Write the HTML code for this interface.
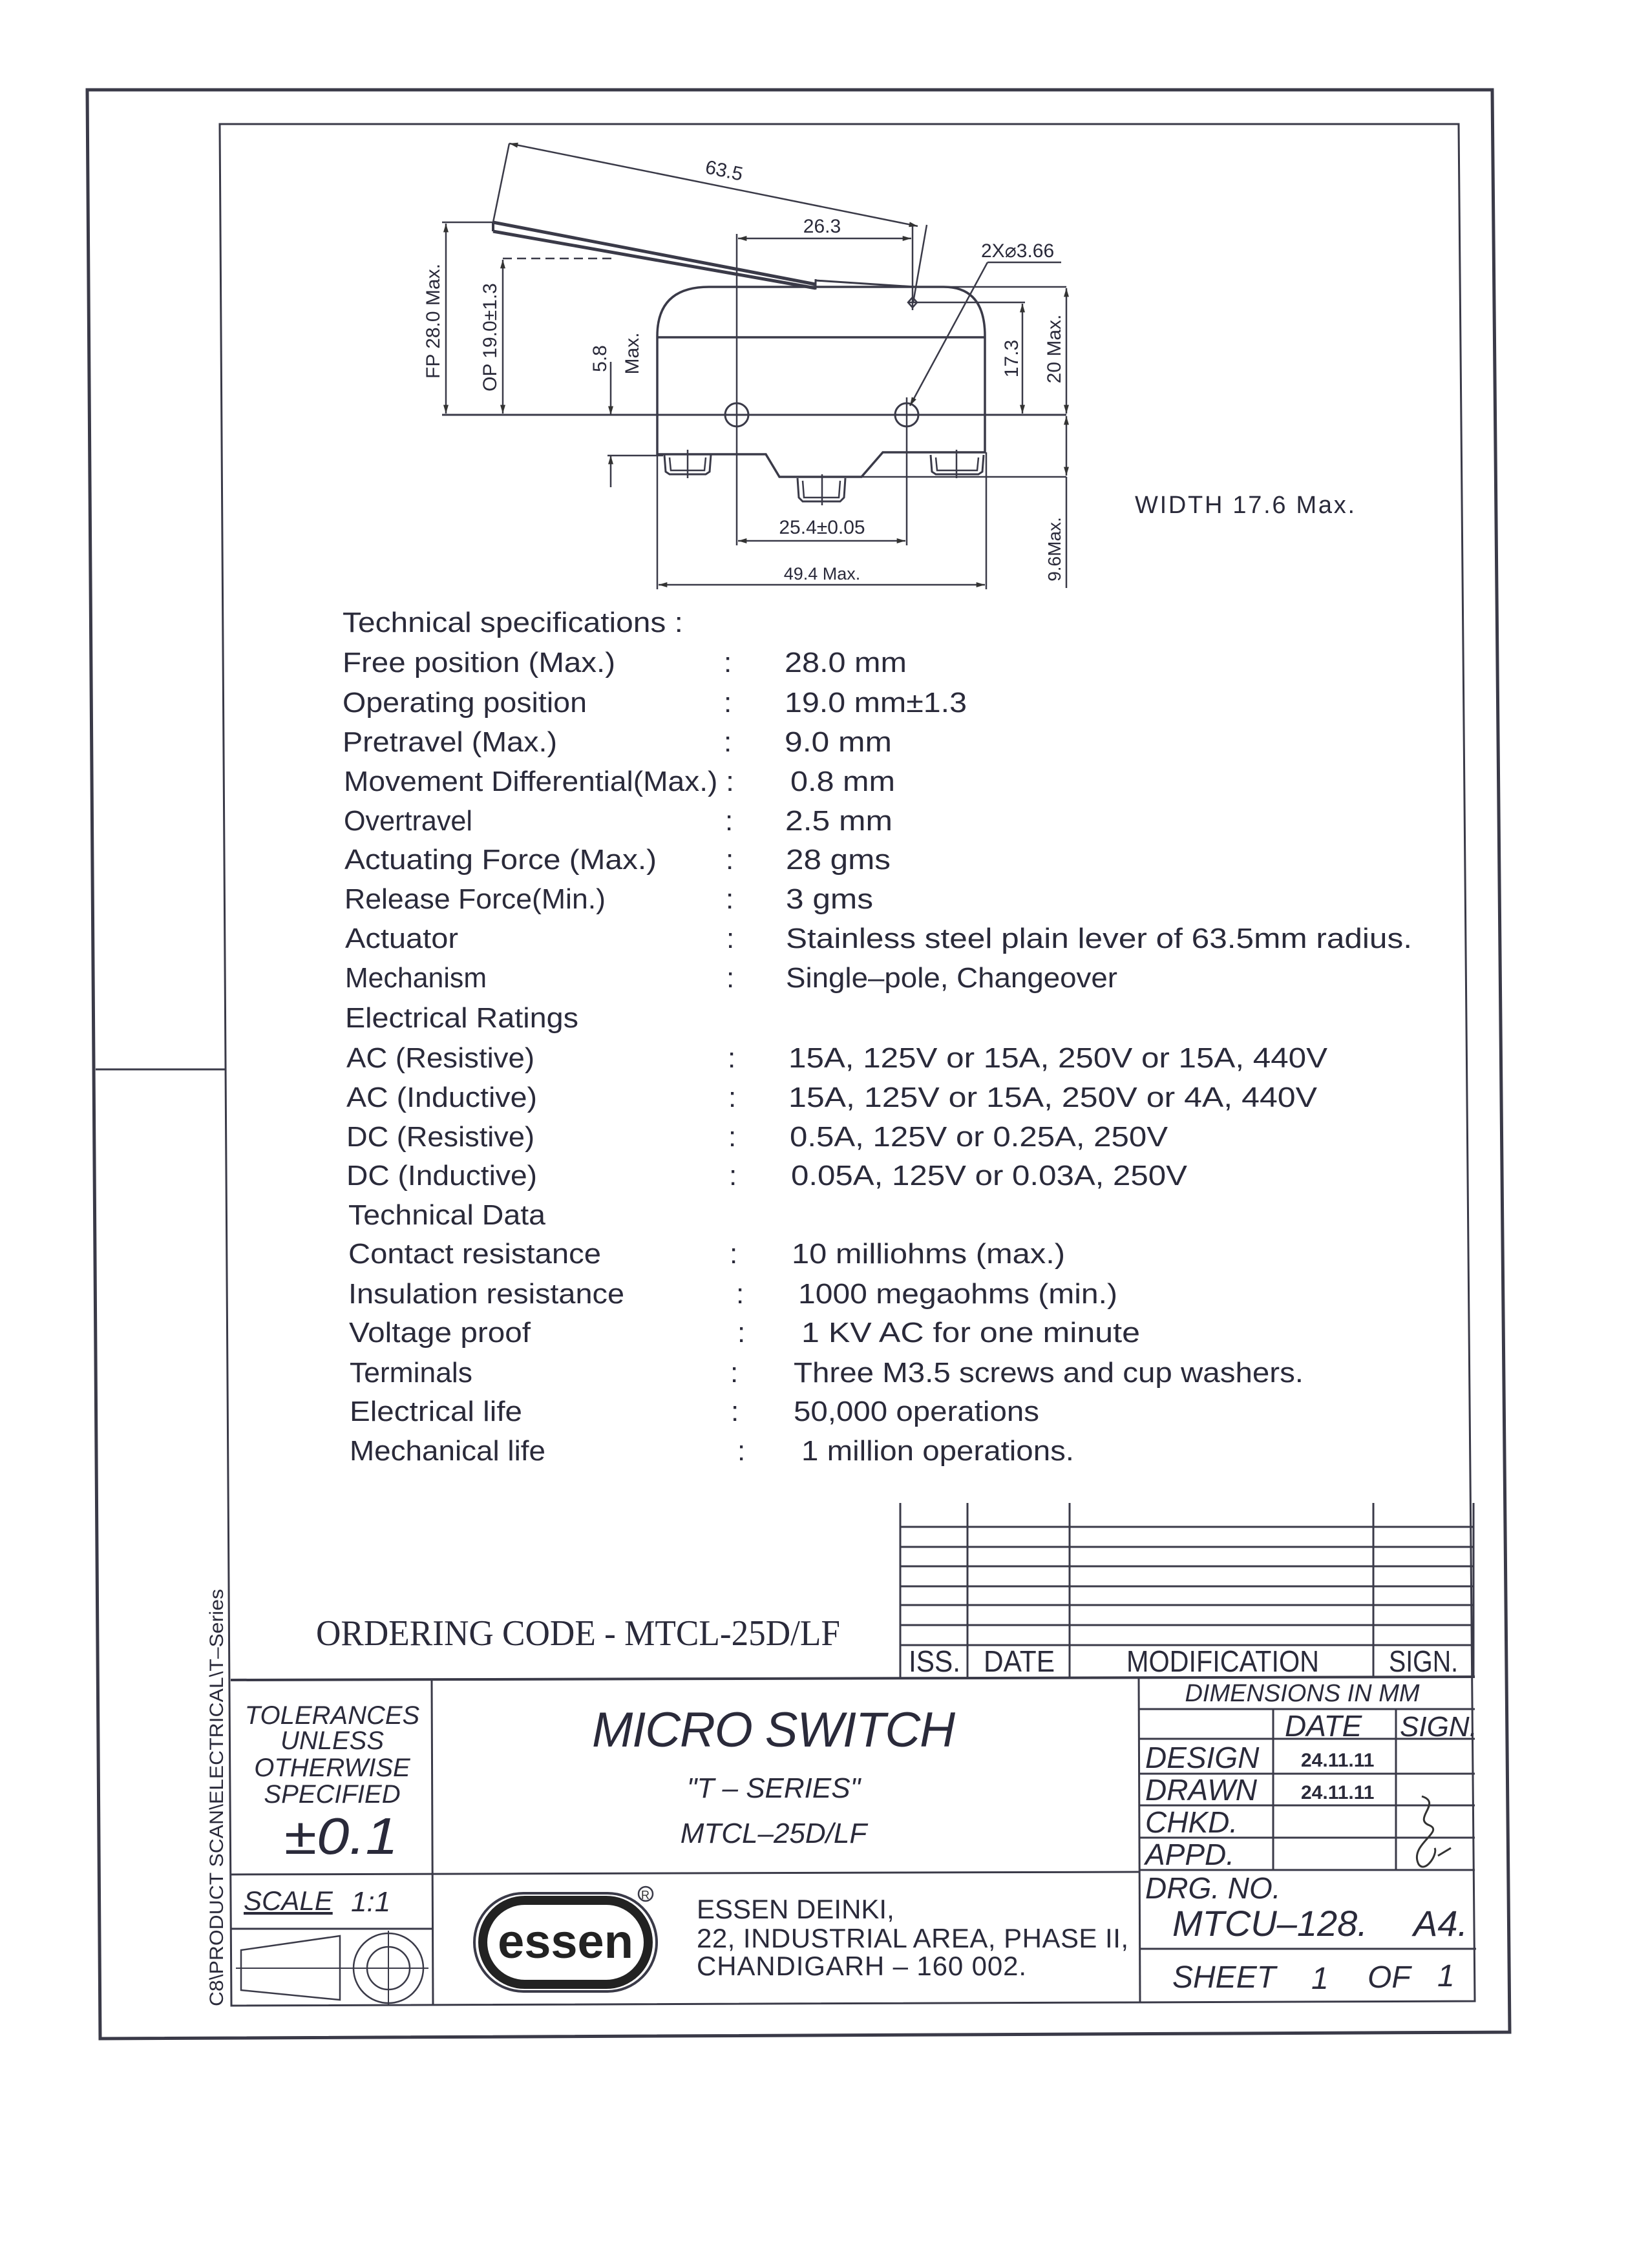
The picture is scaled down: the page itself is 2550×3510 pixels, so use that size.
<!DOCTYPE html>
<html><head><meta charset="utf-8"><style>
html,body{margin:0;padding:0;background:#fff}
svg{display:block}
text{font-family:"Liberation Sans",sans-serif;fill:#2a2a3a}
.s{font-size:44px}
.it{font-style:italic}
.serif{font-family:"Liberation Serif",serif}
</style></head><body>
<svg width="2550" height="3510" viewBox="0 0 2550 3510" xmlns="http://www.w3.org/2000/svg">
<defs>
<marker id="b" viewBox="0 0 10 6" refX="10" refY="3" markerWidth="16" markerHeight="8" orient="auto-start-reverse" markerUnits="userSpaceOnUse"><path d="M0,0 L10,3 L0,6z" fill="#333"/></marker>
</defs>
<g fill="none" stroke="#3a3a48">
<!-- frames -->
<polygon points="135,139 2309,139 2336,3145 155,3155" stroke-width="5"/>
<polygon points="340,192 2257,192 2282,3097 358,3104" stroke-width="3"/>
<line x1="148" y1="1655" x2="350" y2="1655" stroke-width="3"/>

<g stroke-width="2.5">
<line x1="788" y1="222" x2="763" y2="344"/>
<line x1="1434" y1="348" x2="1413" y2="468"/>
<line x1="788" y1="222" x2="1420" y2="350" marker-start="url(#b)" marker-end="url(#b)"/>
<line x1="763" y1="344" x2="1262" y2="440" stroke-width="5"/>
<line x1="763" y1="358" x2="1262" y2="446" stroke-width="5"/>
<line x1="763" y1="344" x2="763" y2="358" stroke-width="4"/>
<line x1="1262" y1="432" x2="1262" y2="448" stroke-width="3"/>
<line x1="1262" y1="434" x2="1416" y2="444" stroke-width="3"/>
<line x1="684" y1="344" x2="763" y2="344"/>
<line x1="690" y1="346" x2="690" y2="640" marker-start="url(#b)" marker-end="url(#b)"/>
<line x1="778" y1="400" x2="949" y2="400" stroke-dasharray="14,8"/>
<line x1="778" y1="402" x2="778" y2="640" marker-start="url(#b)" marker-end="url(#b)"/>
<line x1="684" y1="642" x2="1650" y2="642" stroke-width="3"/>
<line x1="945" y1="560" x2="945" y2="642" marker-end="url(#b)"/>
<line x1="945" y1="754" x2="945" y2="705" marker-end="url(#b)"/>
<line x1="940" y1="705" x2="1026" y2="705"/>
<path d="M1017,703 L1017,520 Q1017,444 1097,444 L1460,444 Q1524,444 1524,520 L1524,700 L1366,700 L1333,738 L1206,738 L1185,703 Z" stroke-width="3.5"/>
<line x1="1017" y1="522" x2="1524" y2="522" stroke-width="3.5"/>
<line x1="1416" y1="444" x2="1650" y2="444"/>
<path d="M1028,704 L1030,730 L1036,734 L1092,734 L1098,730 L1100,704" stroke-width="3"/>
<path d="M1036,708 L1038,728 L1090,728 L1092,708"/>
<line x1="1064" y1="696" x2="1064" y2="740"/>
<path d="M1234,740 L1236,770 L1242,776 L1300,776 L1306,770 L1308,740" stroke-width="3"/>
<path d="M1242,744 L1244,770 L1298,770 L1300,744"/>
<line x1="1272" y1="734" x2="1272" y2="782"/>
<path d="M1440,704 L1442,730 L1448,734 L1514,734 L1520,730 L1522,704" stroke-width="3"/>
<path d="M1448,708 L1450,728 L1512,728 L1514,708"/>
<line x1="1480" y1="696" x2="1480" y2="740"/>
<line x1="1333" y1="738" x2="1650" y2="738"/>
<circle cx="1140" cy="642" r="18" stroke-width="3"/>
<circle cx="1403" cy="642" r="18" stroke-width="3"/>
<line x1="1140" y1="362" x2="1140" y2="844"/>
<line x1="1403" y1="615" x2="1403" y2="844"/>
<line x1="1017" y1="703" x2="1017" y2="912"/>
<line x1="1526" y1="700" x2="1526" y2="912"/>
<line x1="1142" y1="369" x2="1410" y2="369" marker-start="url(#b)" marker-end="url(#b)"/>
<line x1="1412" y1="350" x2="1412" y2="480"/>
<path d="M1412,460 L1419,468 L1412,476 L1405,468Z"/>
<line x1="1405" y1="468" x2="1586" y2="468"/>
<line x1="1528" y1="406" x2="1642" y2="406"/>
<line x1="1528" y1="406" x2="1408" y2="628" marker-end="url(#b)"/>
<line x1="1582" y1="470" x2="1582" y2="640" marker-start="url(#b)" marker-end="url(#b)"/>
<line x1="1650" y1="446" x2="1650" y2="640" marker-start="url(#b)" marker-end="url(#b)"/>
<line x1="1650" y1="644" x2="1650" y2="736" marker-start="url(#b)" marker-end="url(#b)"/>
<line x1="1650" y1="738" x2="1650" y2="910"/>
<line x1="1142" y1="837" x2="1401" y2="837" marker-start="url(#b)" marker-end="url(#b)"/>
<line x1="1019" y1="905" x2="1524" y2="905" marker-start="url(#b)" marker-end="url(#b)"/>
</g>

<!-- revision table -->
<g stroke-width="3">
<line x1="1393" y1="2326" x2="1393" y2="2597"/>
<line x1="1497" y1="2326" x2="1497" y2="2597"/>
<line x1="1655" y1="2326" x2="1655" y2="2597"/>
<line x1="2125" y1="2326" x2="2125" y2="2597"/>
<line x1="1393" y1="2363" x2="2280" y2="2363"/>
<line x1="1393" y1="2394" x2="2280" y2="2394"/>
<line x1="1393" y1="2424" x2="2280" y2="2424"/>
<line x1="1393" y1="2455" x2="2280" y2="2455"/>
<line x1="1393" y1="2484" x2="2280" y2="2484"/>
<line x1="1393" y1="2515" x2="2280" y2="2515"/>
<line x1="1393" y1="2546" x2="2280" y2="2546"/>
<line x1="2280" y1="2326" x2="2280" y2="2597"/>
<!-- title block -->
<line x1="357" y1="2600" x2="2282" y2="2595" stroke-width="4"/>
<line x1="668" y1="2600" x2="670" y2="3104"/>
<line x1="357" y1="2901" x2="1762" y2="2897"/>
<line x1="358" y1="2985" x2="670" y2="2985"/>
<line x1="1762" y1="2597" x2="1764" y2="3100"/>
<line x1="1762" y1="2645" x2="2282" y2="2645"/>
<line x1="1762" y1="2691" x2="2282" y2="2691"/>
<line x1="1762" y1="2745" x2="2282" y2="2745"/>
<line x1="1762" y1="2794" x2="2282" y2="2794"/>
<line x1="1762" y1="2844" x2="2282" y2="2844"/>
<line x1="1762" y1="2894" x2="2282" y2="2894"/>
<line x1="1970" y1="2645" x2="1970" y2="2894"/>
<line x1="2160" y1="2645" x2="2160" y2="2894"/>
<line x1="1764" y1="3016" x2="2284" y2="3016"/>
<!-- scale symbol -->
<polygon points="373,3018 526,2996 526,3095 373,3080" stroke-width="2.5"/>
<line x1="365" y1="3046" x2="663" y2="3046" stroke-width="2"/>
<circle cx="601" cy="3046" r="54" stroke-width="2.5"/>
<circle cx="601" cy="3046" r="33" stroke-width="2.5"/>
<line x1="601" y1="2988" x2="601" y2="3104" stroke-width="2"/>
<!-- logo -->
<rect x="734" y="2930" width="282" height="152" rx="76" stroke-width="4"/>
<rect x="747" y="2941" width="256" height="130" rx="65" stroke="#222" stroke-width="14"/>
<circle cx="999" cy="2931" r="11" stroke-width="2.5"/>
<!-- signature -->
<path d="M2200,2780 C2232,2790 2185,2815 2212,2825 C2235,2835 2180,2855 2195,2885 C2205,2900 2225,2870 2220,2860 M2225,2872 L2245,2860" stroke="#333" stroke-width="3"/>
</g>
</g>

<!-- drawing labels -->
<text x="1090" y="274" font-size="30" transform="rotate(12 1120 270)">63.5</text>
<text x="1272" y="360" font-size="30" text-anchor="middle">26.3</text>
<text x="1518" y="398" font-size="30">2X⌀3.66</text>
<text font-size="30" transform="translate(680,497) rotate(-90)" text-anchor="middle">FP 28.0 Max.</text>
<text font-size="30" transform="translate(768,522) rotate(-90)" text-anchor="middle">OP 19.0±1.3</text>
<text font-size="30" transform="translate(938,555) rotate(-90)" text-anchor="middle">5.8</text>
<text font-size="30" transform="translate(988,547) rotate(-90)" text-anchor="middle">Max.</text>
<text font-size="30" transform="translate(1575,555) rotate(-90)" text-anchor="middle">17.3</text>
<text font-size="30" transform="translate(1641,540) rotate(-90)" text-anchor="middle">20 Max.</text>
<text font-size="28" transform="translate(1641,850) rotate(-90)" text-anchor="middle">9.6Max.</text>
<text x="1272" y="826" font-size="30" text-anchor="middle">25.4±0.05</text>
<text x="1272" y="897" font-size="27" text-anchor="middle">49.4 Max.</text>
<text x="1756" y="794" font-size="38" textLength="340" lengthAdjust="spacing">WIDTH 17.6 Max.</text>

<!-- specs -->
<g class="s">
<text x="530" y="978" textLength="527" lengthAdjust="spacingAndGlyphs">Technical specifications :</text>
<text x="530" y="1040" textLength="422" lengthAdjust="spacingAndGlyphs">Free position (Max.)</text>
<text x="530" y="1102" textLength="378" lengthAdjust="spacingAndGlyphs">Operating position</text>
<text x="530" y="1163" textLength="332" lengthAdjust="spacingAndGlyphs">Pretravel (Max.)</text>
<text x="532" y="1224" textLength="604" lengthAdjust="spacingAndGlyphs">Movement Differential(Max.) :</text>
<text x="532" y="1285" textLength="199" lengthAdjust="spacingAndGlyphs">Overtravel</text>
<text x="533" y="1345" textLength="483" lengthAdjust="spacingAndGlyphs">Actuating Force (Max.)</text>
<text x="533" y="1406" textLength="404" lengthAdjust="spacingAndGlyphs">Release Force(Min.)</text>
<text x="534" y="1467" textLength="175" lengthAdjust="spacingAndGlyphs">Actuator</text>
<text x="534" y="1528" textLength="219" lengthAdjust="spacingAndGlyphs">Mechanism</text>
<text x="534" y="1590" textLength="361" lengthAdjust="spacingAndGlyphs">Electrical Ratings</text>
<text x="536" y="1652" textLength="291" lengthAdjust="spacingAndGlyphs">AC (Resistive)</text>
<text x="536" y="1713" textLength="295" lengthAdjust="spacingAndGlyphs">AC (Inductive)</text>
<text x="536" y="1774" textLength="291" lengthAdjust="spacingAndGlyphs">DC (Resistive)</text>
<text x="536" y="1834" textLength="295" lengthAdjust="spacingAndGlyphs">DC (Inductive)</text>
<text x="539" y="1895" textLength="305" lengthAdjust="spacingAndGlyphs">Technical Data</text>
<text x="539" y="1955" textLength="391" lengthAdjust="spacingAndGlyphs">Contact resistance</text>
<text x="539" y="2017" textLength="427" lengthAdjust="spacingAndGlyphs">Insulation resistance</text>
<text x="540" y="2077" textLength="281" lengthAdjust="spacingAndGlyphs">Voltage proof</text>
<text x="541" y="2139" textLength="190" lengthAdjust="spacingAndGlyphs">Terminals</text>
<text x="541" y="2199" textLength="267" lengthAdjust="spacingAndGlyphs">Electrical life</text>
<text x="541" y="2260" textLength="303" lengthAdjust="spacingAndGlyphs">Mechanical life</text>

<text x="1120" y="1040">:</text><text x="1120" y="1102">:</text><text x="1120" y="1163">:</text>
<text x="1122" y="1285">:</text><text x="1123" y="1345">:</text><text x="1123" y="1406">:</text>
<text x="1124" y="1467">:</text><text x="1124" y="1528">:</text><text x="1126" y="1652">:</text>
<text x="1127" y="1713">:</text><text x="1127" y="1774">:</text><text x="1128" y="1834">:</text>
<text x="1129" y="1955">:</text><text x="1139" y="2017">:</text><text x="1141" y="2077">:</text>
<text x="1130" y="2139">:</text><text x="1131" y="2199">:</text><text x="1141" y="2260">:</text>

<text x="1214" y="1040" textLength="189" lengthAdjust="spacingAndGlyphs">28.0 mm</text>
<text x="1214" y="1102" textLength="282" lengthAdjust="spacingAndGlyphs">19.0 mm±1.3</text>
<text x="1214" y="1163" textLength="166" lengthAdjust="spacingAndGlyphs">9.0 mm</text>
<text x="1223" y="1224" textLength="162" lengthAdjust="spacingAndGlyphs">0.8 mm</text>
<text x="1215" y="1285" textLength="166" lengthAdjust="spacingAndGlyphs">2.5 mm</text>
<text x="1216" y="1345" textLength="162" lengthAdjust="spacingAndGlyphs">28 gms</text>
<text x="1216" y="1406" textLength="135" lengthAdjust="spacingAndGlyphs">3 gms</text>
<text x="1216" y="1467" textLength="969" lengthAdjust="spacingAndGlyphs">Stainless steel plain lever of 63.5mm radius.</text>
<text x="1216" y="1528" textLength="513" lengthAdjust="spacingAndGlyphs">Single–pole, Changeover</text>
<text x="1220" y="1652" textLength="834" lengthAdjust="spacingAndGlyphs">15A, 125V or 15A, 250V or 15A, 440V</text>
<text x="1220" y="1713" textLength="818" lengthAdjust="spacingAndGlyphs">15A, 125V or 15A, 250V or 4A, 440V</text>
<text x="1222" y="1774" textLength="585" lengthAdjust="spacingAndGlyphs">0.5A, 125V or 0.25A, 250V</text>
<text x="1224" y="1834" textLength="613" lengthAdjust="spacingAndGlyphs">0.05A, 125V or 0.03A, 250V</text>
<text x="1225" y="1955" textLength="423" lengthAdjust="spacingAndGlyphs">10 milliohms (max.)</text>
<text x="1235" y="2017" textLength="494" lengthAdjust="spacingAndGlyphs">1000 megaohms (min.)</text>
<text x="1240" y="2077" textLength="524" lengthAdjust="spacingAndGlyphs">1 KV AC for one minute</text>
<text x="1228" y="2139" textLength="789" lengthAdjust="spacingAndGlyphs">Three M3.5 screws and cup washers.</text>
<text x="1228" y="2199" textLength="380" lengthAdjust="spacingAndGlyphs">50,000 operations</text>
<text x="1240" y="2260" textLength="422" lengthAdjust="spacingAndGlyphs">1 million operations.</text>
</g>

<text class="serif" x="489" y="2546" font-size="56" textLength="811" lengthAdjust="spacingAndGlyphs">ORDERING CODE - MTCL-25D/LF</text>

<g font-size="46">
<text x="1406" y="2587" textLength="80" lengthAdjust="spacingAndGlyphs">ISS.</text>
<text x="1522" y="2587" textLength="110" lengthAdjust="spacingAndGlyphs">DATE</text>
<text x="1743" y="2587" textLength="298" lengthAdjust="spacingAndGlyphs">MODIFICATION</text>
<text x="2149" y="2587" textLength="107" lengthAdjust="spacingAndGlyphs">SIGN.</text>
</g>

<text font-size="30" transform="translate(345,2782) rotate(-90)" text-anchor="middle" textLength="646" lengthAdjust="spacingAndGlyphs">C8\PRODUCT SCAN\ELECTRICAL\T–Series</text>

<g class="it">
<g font-size="40" text-anchor="middle">
<text x="514" y="2668">TOLERANCES</text>
<text x="514" y="2707">UNLESS</text>
<text x="514" y="2749">OTHERWISE</text>
<text x="514" y="2790">SPECIFIED</text>
</g>
<text x="440" y="2869" font-size="80" textLength="176" lengthAdjust="spacingAndGlyphs">±0.1</text>
<text x="377" y="2956" font-size="42" text-decoration="underline">SCALE</text>
<text x="543" y="2958" font-size="44">1:1</text>
<text x="916" y="2703" font-size="76" textLength="562" lengthAdjust="spacing">MICRO SWITCH</text>
<text x="1197" y="2782" font-size="44" text-anchor="middle">"T – SERIES"</text>
<text x="1197" y="2852" font-size="44" text-anchor="middle">MTCL–25D/LF</text>
<text x="2015" y="2633" font-size="38" text-anchor="middle">DIMENSIONS IN MM</text>
<text x="1988" y="2687" font-size="46">DATE</text>
<text x="2166" y="2687" font-size="44">SIGN.</text>
<text x="1772" y="2736" font-size="46">DESIGN</text>
<text x="1772" y="2786" font-size="46">DRAWN</text>
<text x="1772" y="2836" font-size="46">CHKD.</text>
<text x="1772" y="2886" font-size="46">APPD.</text>
<text x="1772" y="2938" font-size="46">DRG. NO.</text>
<text x="1814" y="2996" font-size="56">MTCU–128.</text>
<text x="2187" y="2996" font-size="56">A4.</text>
<text x="1814" y="3076" font-size="48">SHEET</text>
<text x="2029" y="3078" font-size="48">1</text>
<text x="2116" y="3076" font-size="48">OF</text>
<text x="2224" y="3074" font-size="48">1</text>
</g>
<text x="2013" y="2734" font-size="30" font-weight="bold">24.11.11</text>
<text x="2013" y="2784" font-size="30" font-weight="bold">24.11.11</text>
<text x="875" y="3030" font-size="74" font-weight="bold" text-anchor="middle" style="fill:#222">essen</text>
<text x="992" y="2939" font-size="18" style="fill:#333">R</text>
<g font-size="42">
<text x="1078" y="2969">ESSEN DEINKI,</text>
<text x="1078" y="3014" textLength="668" lengthAdjust="spacing">22, INDUSTRIAL AREA, PHASE II,</text>
<text x="1078" y="3057" textLength="510" lengthAdjust="spacing">CHANDIGARH – 160 002.</text>
</g>
</svg>
</body></html>
